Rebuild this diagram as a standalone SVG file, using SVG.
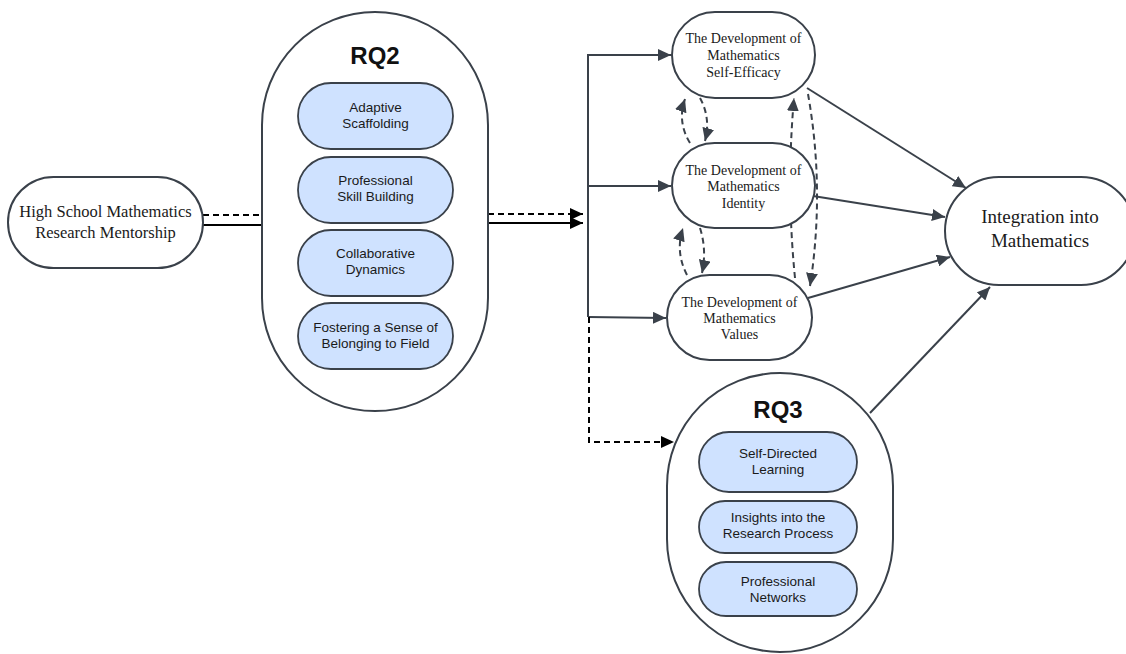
<svg xmlns="http://www.w3.org/2000/svg" width="1126" height="654" viewBox="0 0 1126 654">
<defs>
<style>
.node{fill:#fff;stroke:#3a414a;stroke-width:2}
.inner{fill:#cfe2ff;stroke:#3a414a;stroke-width:1.8}
.serif{font-family:"Liberation Serif","Times New Roman",serif;fill:#1a1a1a;text-anchor:middle}
.sans{font-family:"Liberation Sans",Arial,sans-serif;fill:#1a1a1a;text-anchor:middle;font-size:13.5px}
.title{font-family:"Liberation Sans",Arial,sans-serif;fill:#111;text-anchor:middle;font-size:24px;font-weight:bold}
.c{fill:none;stroke:#3a414a;stroke-width:2}
.k{fill:none;stroke:#000;stroke-width:2}
.d{stroke-dasharray:6 4}
</style>
<marker id="ag" markerUnits="userSpaceOnUse" markerWidth="14" markerHeight="12" refX="13" refY="6" orient="auto"><path d="M0,0 L13,6 L0,12 z" fill="#3a414a"/></marker>
<marker id="ak" markerUnits="userSpaceOnUse" markerWidth="14" markerHeight="12" refX="13" refY="6" orient="auto"><path d="M0,0 L13,6 L0,12 z" fill="#000"/></marker>
</defs>
<rect width="1126" height="654" fill="#fff"/>
<g id="connectors">
<line class="k d" x1="203" y1="215" x2="262" y2="215"/>
<line class="k" x1="203" y1="225" x2="262" y2="225"/>
<line class="k d" x1="488" y1="214" x2="583" y2="214" marker-end="url(#ak)"/>
<line class="k" x1="488" y1="223" x2="583" y2="223" marker-end="url(#ak)"/>
<polyline class="c" points="672,55 588,55 588,317"/>
<line class="c" x1="588" y1="55" x2="671" y2="55" marker-end="url(#ag)"/>
<line class="c" x1="588" y1="186" x2="671" y2="186" marker-end="url(#ag)"/>
<line class="c" x1="588" y1="317" x2="666" y2="318" marker-end="url(#ag)"/>
<polyline class="k d" points="589,317 589,442 674,442" marker-end="url(#ak)"/>
<line class="c" x1="807" y1="88" x2="966" y2="188" marker-end="url(#ag)"/>
<line class="c" x1="813" y1="196" x2="945" y2="217" marker-end="url(#ag)"/>
<line class="c" x1="808" y1="298" x2="950" y2="257" marker-end="url(#ag)"/>
<line class="c" x1="870" y1="413" x2="990" y2="287" marker-end="url(#ag)"/>
<path class="c d" d="M690,143 Q677,122 685,99" marker-end="url(#ag)"/>
<path class="c d" d="M700,98 Q711,118 705,141" marker-end="url(#ag)"/>
<path class="c d" d="M687,275 Q675,252 683,228" marker-end="url(#ag)"/>
<path class="c d" d="M700,228 Q707,250 702,273" marker-end="url(#ag)"/>
<path class="c d" d="M795,278 Q786,188 794,98" marker-end="url(#ag)"/>
<path class="c d" d="M808,94 Q825,190 810,286" marker-end="url(#ag)"/>
</g>
<g id="mentorship">
<rect class="node" x="8" y="177" width="195" height="91" rx="45.5"/>
<text class="serif" font-size="16.5" x="105.5" y="217">High School Mathematics</text>
<text class="serif" font-size="16.5" x="105.5" y="238">Research Mentorship</text>
</g>
<g id="rq2">
<rect class="node" x="262" y="12" width="226" height="399" rx="113"/>
<text class="title" x="375" y="64">RQ2</text>
</g>
<g id="rq2-adaptive">
<rect class="inner" x="298" y="83" width="155" height="66" rx="33"/>
<text class="sans" x="375.5" y="112">Adaptive</text>
<text class="sans" x="375.5" y="128">Scaffolding</text>
</g>
<g id="rq2-professional">
<rect class="inner" x="298" y="157" width="155" height="66" rx="33"/>
<text class="sans" x="375.5" y="185">Professional</text>
<text class="sans" x="375.5" y="201">Skill Building</text>
</g>
<g id="rq2-collaborative">
<rect class="inner" x="298" y="230" width="155" height="66" rx="33"/>
<text class="sans" x="375.5" y="258">Collaborative</text>
<text class="sans" x="375.5" y="274">Dynamics</text>
</g>
<g id="rq2-belonging">
<rect class="inner" x="298" y="303" width="155" height="66" rx="33"/>
<text class="sans" x="375.5" y="332">Fostering a Sense of</text>
<text class="sans" x="375.5" y="348">Belonging to Field</text>
</g>
<g id="self-efficacy">
<rect class="node" x="672" y="12" width="143" height="86" rx="43"/>
<text class="serif" font-size="14" x="743.5" y="43">The Development of</text>
<text class="serif" font-size="14" x="743.5" y="60">Mathematics</text>
<text class="serif" font-size="14" x="743.5" y="77">Self-Efficacy</text>
</g>
<g id="identity">
<rect class="node" x="672" y="143" width="143" height="85" rx="42.5"/>
<text class="serif" font-size="14" x="743.5" y="175">The Development of</text>
<text class="serif" font-size="14" x="743.5" y="191">Mathematics</text>
<text class="serif" font-size="14" x="743.5" y="208">Identity</text>
</g>
<g id="values">
<rect class="node" x="667" y="275" width="145" height="85" rx="42.5"/>
<text class="serif" font-size="14" x="739.5" y="307">The Development of</text>
<text class="serif" font-size="14" x="739.5" y="323">Mathematics</text>
<text class="serif" font-size="14" x="739.5" y="339">Values</text>
</g>
<g id="integration">
<rect class="node" x="945" y="177" width="190" height="108" rx="54"/>
<text class="serif" font-size="19" x="1040" y="223">Integration into</text>
<text class="serif" font-size="19" x="1040" y="247">Mathematics</text>
</g>
<g id="rq3">
<rect class="node" x="667" y="373" width="226" height="279" rx="113"/>
<text class="title" x="778" y="418">RQ3</text>
</g>
<g id="rq3-self-directed">
<rect class="inner" x="699" y="432" width="158" height="60" rx="30"/>
<text class="sans" x="778" y="458">Self-Directed</text>
<text class="sans" x="778" y="474">Learning</text>
</g>
<g id="rq3-insights">
<rect class="inner" x="699" y="501" width="158" height="52" rx="26"/>
<text class="sans" x="778" y="522">Insights into the</text>
<text class="sans" x="778" y="538">Research Process</text>
</g>
<g id="rq3-networks">
<rect class="inner" x="699" y="562" width="158" height="54" rx="27"/>
<text class="sans" x="778" y="586">Professional</text>
<text class="sans" x="778" y="602">Networks</text>
</g>
</svg>
